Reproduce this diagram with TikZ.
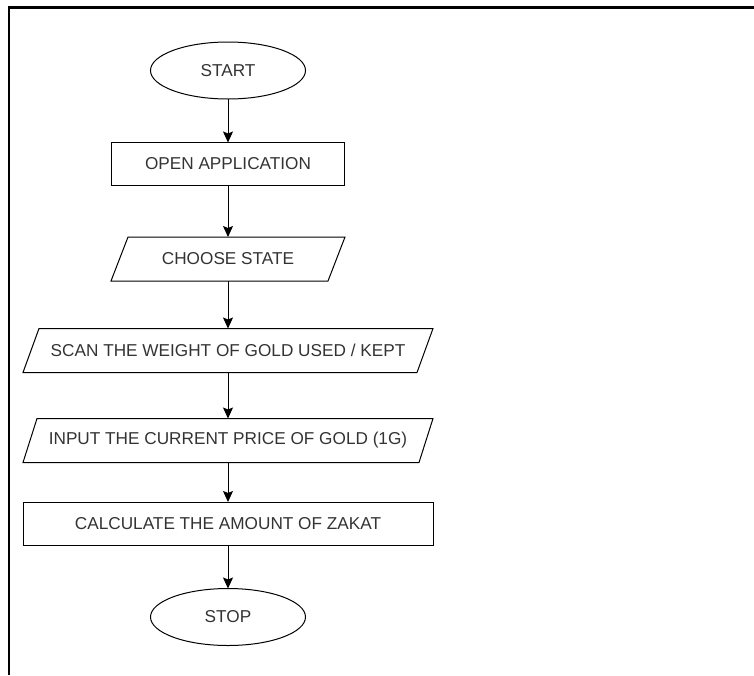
\documentclass[tikz,border=0pt]{standalone}
\usepackage{fontspec}
\setmainfont{Liberation Sans}
\usetikzlibrary{shapes.geometric,arrows.meta}
\definecolor{txt}{HTML}{333333}
\newcommand\drawpara[2]{%
  \draw[line width=1pt, line join=miter] ([xshift=-#2]#1.south west) -- ([xshift=#2]#1.north west)
    -- ([xshift=#2]#1.north east) -- ([xshift=-#2]#1.south east) -- cycle;}
\begin{document}
\begin{tikzpicture}[x=1pt,y=-1pt,
  every node/.style={font=\fontsize{17.2}{20}\selectfont, text=txt, outer sep=0pt, inner sep=0pt, line width=1pt},
  term/.style={draw, ellipse, minimum width=155pt, minimum height=57pt},
  proc/.style={draw, rectangle, minimum height=43pt},
  io/.style={rectangle, minimum height=44pt},
  flow/.style={line width=1pt, -{Stealth[length=11pt,width=10pt,inset=2pt]}}]
\useasboundingbox (0,0) rectangle (754,675);
\draw[line width=2.5pt] (9,675) -- (9,7.5) -- (754,7.5);
\node[term] (start) at (228,70.5) {START};
\node[proc, minimum width=233pt] (open) at (228,164) {OPEN APPLICATION};
\node[io, minimum width=217pt] (choose) at (228,259) {CHOOSE STATE};
\node[io, minimum width=394pt] (scan) at (228,350.5) {SCAN THE WEIGHT OF GOLD USED / KEPT};
\node[io, minimum width=396pt] (input) at (228,440.5) {INPUT THE CURRENT PRICE OF GOLD (1G)};
\node[proc, minimum width=410pt] (calc) at (228,523.5) {CALCULATE THE AMOUNT OF ZAKAT};
\node[term] (stop) at (228,617) {STOP};
\drawpara{choose}{8.5pt}
\drawpara{scan}{8pt}
\drawpara{input}{7pt}
\draw[flow] (start) -- (open);
\draw[flow] (open) -- (choose);
\draw[flow] (choose) -- (scan);
\draw[flow] (scan) -- (input);
\draw[flow] (input) -- (calc);
\draw[flow] (calc) -- (stop);
\end{tikzpicture}
\end{document}
